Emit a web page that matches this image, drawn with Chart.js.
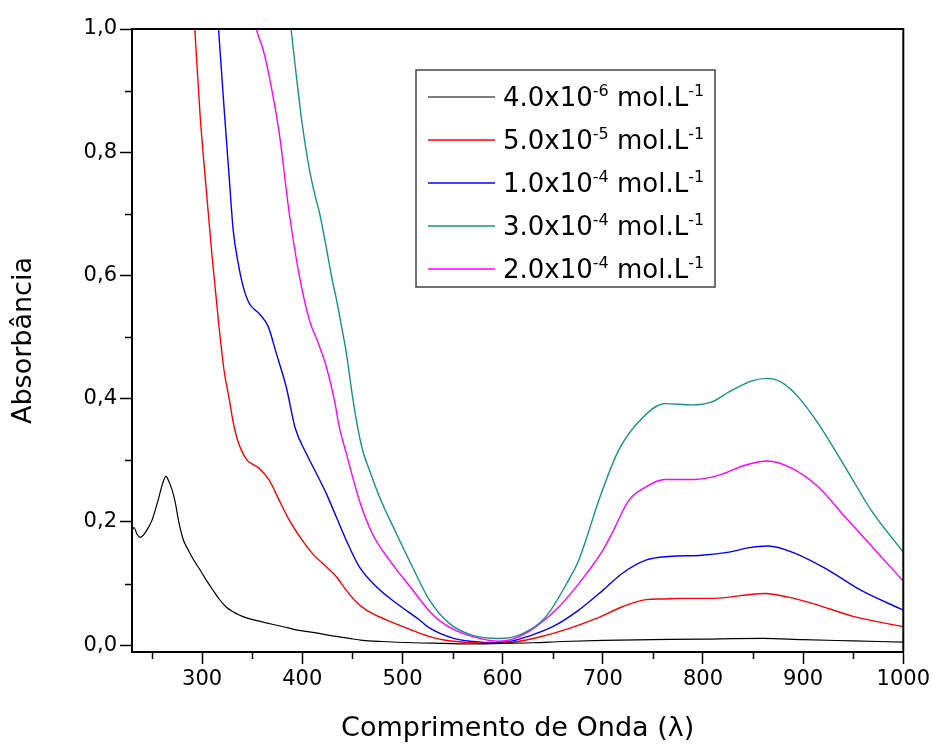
<!DOCTYPE html>
<html lang="pt">
<head>
    <meta charset="UTF-8">
    <title>Absorbância x Comprimento de Onda</title>
    <script src="https://cdn.jsdelivr.net/npm/chart.js"></script>
    <style>
        html, body { margin: 0; padding: 0; background: #fff; }
        .box-grafico { width: 933px; height: 745px; }
    </style>
</head>
<body>
<div class="box-grafico">
    <canvas id="espectro"></canvas>
</div>

<script>
    // Espectros UV-Vis: comprimento de onda (nm) e absorbância de cada concentração

    var wl4e6 = [230, 232, 235, 238, 242, 246, 250, 256, 261, 264, 267, 270, 273, 277, 281, 286, 291, 298, 304, 311, 317, 324, 330, 337, 345, 357, 370, 381, 394, 414, 427, 447, 460, 480, 510, 540, 570, 600, 630, 660, 700, 750, 800, 860, 900, 950, 1000];
    var abs4e6 = [0.186, 0.191, 0.180, 0.175, 0.180, 0.190, 0.203, 0.235, 0.265, 0.274, 0.265, 0.252, 0.233, 0.198, 0.172, 0.155, 0.140, 0.122, 0.106, 0.089, 0.075, 0.062, 0.055, 0.049, 0.044, 0.039, 0.034, 0.030, 0.025, 0.020, 0.016, 0.011, 0.008, 0.006, 0.004, 0.003, 0.002, 0.003, 0.004, 0.006, 0.008, 0.009, 0.010, 0.011, 0.009, 0.007, 0.005];

    var wl5e5 = [292.7, 298, 303, 310, 317, 322, 327, 331, 335, 339, 345, 351, 357, 367, 377, 387, 400, 410, 422, 434, 444, 454, 464, 484, 510, 527, 543, 570, 596, 615, 636, 666, 693, 719, 743, 759, 776, 809, 826, 845, 862, 885, 909, 952, 1000];
    var abs5e5 = [1.0, 0.86, 0.76, 0.63, 0.515, 0.445, 0.40, 0.362, 0.335, 0.317, 0.300, 0.293, 0.287, 0.268, 0.235, 0.203, 0.170, 0.149, 0.130, 0.111, 0.089, 0.070, 0.057, 0.041, 0.024, 0.014, 0.008, 0.004, 0.003, 0.006, 0.013, 0.027, 0.043, 0.062, 0.074, 0.075, 0.076, 0.076, 0.078, 0.082, 0.084, 0.078, 0.068, 0.046, 0.030];

    var wl1e4 = [316.4, 322, 327, 331, 336, 341, 347, 357, 366, 374, 384, 393, 404, 414, 424, 434, 444, 457, 474, 494, 517, 527, 551, 570, 593, 610, 623, 650, 676, 700, 719, 743, 766, 799, 826, 845, 865, 892, 925, 958, 1000];
    var abs1e4 = [1.0, 0.87, 0.76, 0.674, 0.62, 0.582, 0.555, 0.538, 0.517, 0.474, 0.419, 0.352, 0.311, 0.279, 0.246, 0.208, 0.170, 0.127, 0.095, 0.068, 0.041, 0.028, 0.011, 0.006, 0.004, 0.007, 0.013, 0.030, 0.057, 0.089, 0.116, 0.138, 0.144, 0.146, 0.151, 0.158, 0.161, 0.149, 0.122, 0.089, 0.057];

    var wl3e4 = [388.8, 394, 400, 407, 413, 417, 424, 430, 434, 440, 444, 450, 455, 460, 468, 477, 494, 510, 527, 547, 570, 596, 620, 643, 666, 676, 683, 696, 716, 739, 762, 789, 809, 826, 849, 864, 879, 895, 915, 942, 968, 1000];
    var abs3e4 = [1.0, 0.925, 0.845, 0.773, 0.728, 0.703, 0.645, 0.592, 0.562, 0.51, 0.474, 0.405, 0.356, 0.318, 0.28, 0.241, 0.181, 0.127, 0.073, 0.035, 0.016, 0.011, 0.019, 0.046, 0.106, 0.138, 0.170, 0.235, 0.317, 0.368, 0.392, 0.390, 0.395, 0.411, 0.429, 0.433, 0.426, 0.403, 0.360, 0.289, 0.219, 0.151];

    var wl2e4 = [354, 357, 361, 367, 377, 387, 397, 407, 416, 424, 432, 437, 444, 457, 470, 487, 510, 527, 537, 553, 570, 596, 610, 626, 653, 676, 700, 709, 726, 743, 762, 792, 816, 842, 864, 889, 915, 942, 975, 1000];
    var abs2e4 = [1.0, 0.985, 0.966, 0.923, 0.831, 0.701, 0.600, 0.528, 0.49, 0.452, 0.398, 0.354, 0.311, 0.235, 0.181, 0.138, 0.090, 0.055, 0.040, 0.024, 0.014, 0.0065, 0.010, 0.022, 0.057, 0.100, 0.154, 0.181, 0.235, 0.257, 0.269, 0.269, 0.276, 0.292, 0.299, 0.287, 0.257, 0.208, 0.149, 0.104];

    // Legenda: concentração = mantissa x 10^expoente mol.L^-1
    var mantissas = ['4.0', '5.0', '1.0', '3.0', '2.0'];
    var expoentes = ['-6', '-5', '-4', '-4', '-4'];
    var cores = ['#000000', '#ff0000', '#0000ff', '#16908a', '#ff00ff'];

    // Marcas dos eixos (principais com rótulo, secundárias sem)
    var xPrincipais = [300, 400, 500, 600, 700, 800, 900, 1000];
    var xSecundarias = [250, 350, 450, 550, 650, 750, 850, 950];
    var yPrincipais = [0, 0.2, 0.4, 0.6, 0.8, 1.0];
    var ySecundarias = [0.1, 0.3, 0.5, 0.7, 0.9];

    var comprimentos = [wl4e6, wl5e5, wl1e4, wl3e4, wl2e4];
    var absorbancias = [abs4e6, abs5e5, abs1e4, abs3e4, abs2e4];

    var fonte = '"DejaVu Sans", "Liberation Sans", sans-serif';
    Chart.defaults.font.family = fonte;
    Chart.defaults.color = '#000';

    var datasets = comprimentos.map(function (wl, i) {
        return {
            label: mantissas[i] + 'x10' + expoentes[i] + ' mol.L-1',
            data: wl.map(function (x, j) { return { x: x, y: absorbancias[i][j] }; }),
            borderColor: cores[i],
            borderWidth: i === 0 ? 1.2 : 1.4,
            pointRadius: 0,
            cubicInterpolationMode: 'monotone', // suaviza a curva entre os pontos
            fill: false
        };
    });

    // Moldura superior/direita, marcas secundárias e legenda com expoentes
    var moldura = {
        id: 'moldura',
        afterDraw: function (chart) {
            var ctx = chart.ctx;
            var area = chart.chartArea;
            var sx = chart.scales.x, sy = chart.scales.y;

            ctx.save();
            ctx.strokeStyle = '#000';
            ctx.lineWidth = 2;
            ctx.beginPath();
            ctx.moveTo(area.left, area.top);
            ctx.lineTo(area.right, area.top);
            ctx.lineTo(area.right, area.bottom);
            ctx.stroke();

            ctx.lineWidth = 1.5;
            ctx.beginPath();
            xSecundarias.forEach(function (v) {
                var px = Math.round(sx.getPixelForValue(v)) + 0.5;
                ctx.moveTo(px, area.bottom);
                ctx.lineTo(px, area.bottom + 7);
            });
            ySecundarias.forEach(function (v) {
                var py = Math.round(sy.getPixelForValue(v)) + 0.5;
                ctx.moveTo(area.left, py);
                ctx.lineTo(area.left - 7, py);
            });
            ctx.stroke();

            // legenda
            var lx = area.left + 284, ly = area.top + 41, lw = 299, lh = 217;
            ctx.fillStyle = '#fff';
            ctx.fillRect(lx, ly, lw, lh);
            ctx.strokeStyle = '#444';
            ctx.lineWidth = 1.5;
            ctx.strokeRect(lx, ly, lw, lh);

            ctx.textBaseline = 'alphabetic';
            ctx.textAlign = 'left';
            ctx.fillStyle = '#000';
            var grande = '26px ' + fonte, pequena = '16px ' + fonte;
            mantissas.forEach(function (m, i) {
                var cy = ly + 27 + i * 43;
                ctx.strokeStyle = cores[i];
                ctx.lineWidth = datasets[i].borderWidth;
                ctx.beginPath();
                ctx.moveTo(lx + 12, cy);
                ctx.lineTo(lx + 79, cy);
                ctx.stroke();

                var tx = lx + 87, base = cy + 9;
                ctx.font = grande;
                ctx.fillText(m + 'x10', tx, base);
                tx += ctx.measureText(m + 'x10').width;
                ctx.font = pequena;
                ctx.fillText(expoentes[i], tx, base - 10);
                tx += ctx.measureText(expoentes[i]).width;
                ctx.font = grande;
                ctx.fillText(' mol.L', tx, base);
                tx += ctx.measureText(' mol.L').width;
                ctx.font = pequena;
                ctx.fillText('-1', tx, base - 10);
            });
            ctx.restore();
        }
    };

    var contexto = document.getElementById('espectro');
    new Chart(contexto, {
        type: 'line',
        data: { datasets: datasets },
        options: {
            responsive: true,
            maintainAspectRatio: false,
            animation: false,
            layout: { padding: { left: 0, top: 29, right: 28, bottom: 0 } },
            plugins: {
                legend: { display: false },
                tooltip: { enabled: false }
            },
            scales: {
                x: {
                    type: 'linear',
                    min: 230,
                    max: 1000,
                    afterBuildTicks: function (s) { s.ticks = xPrincipais.map(function (v) { return { value: v }; }); },
                    afterFit: function (s) { s.height = 93; },
                    grid: { drawOnChartArea: false, tickLength: 12, tickWidth: 1.5, tickColor: '#000' },
                    border: { color: '#000', width: 2 },
                    ticks: {
                        font: { size: 21 },
                        padding: 3,
                        maxRotation: 0,
                        autoSkip: false,
                        callback: function (v) { return String(v); }
                    },
                    title: {
                        display: true,
                        text: 'Comprimento de Onda (λ)',
                        font: { size: 27 },
                        padding: { top: 0, bottom: 0 }
                    }
                },
                y: {
                    min: -0.011,
                    max: 1.0,
                    afterBuildTicks: function (s) { s.ticks = yPrincipais.map(function (v) { return { value: v }; }); },
                    afterFit: function (s) { s.width = 132; },
                    grid: { drawOnChartArea: false, tickLength: 12, tickWidth: 1.5, tickColor: '#000' },
                    border: { color: '#000', width: 2 },
                    ticks: {
                        font: { size: 21 },
                        padding: 3,
                        autoSkip: false,
                        callback: function (v) { return v.toFixed(1).replace('.', ','); }
                    },
                    title: {
                        display: true,
                        text: 'Absorbância',
                        font: { size: 27 },
                        padding: { top: 8, bottom: 0 }
                    }
                }
            }
        },
        plugins: [moldura]
    });
</script>
</body>
</html>
